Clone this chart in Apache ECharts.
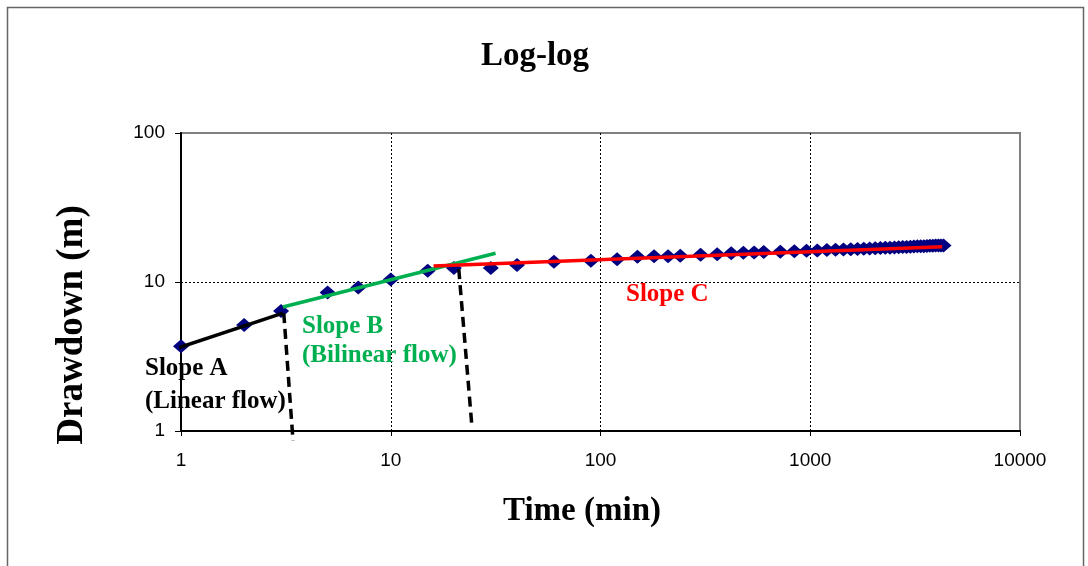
<!DOCTYPE html>
<html>
<head>
<meta charset="utf-8">
<script src="https://cdn.jsdelivr.net/npm/echarts@6/dist/echarts.min.js"></script>
<style>html,body{margin:0;padding:0;background:#fff}#c{width:1088px;height:566px}</style>
</head>
<body>
<div id="c"></div>
<script>
// Observed drawdown data
const timeMin = [1,2,3,5,7,10,15,20,30,40,60,90,120,150,180,210,240,300,360,420,480,540,600,720,840,960,1080,1200,1320,1440,1560,1680,1800,1920,2040,2160,2280,2400,2520,2640,2760,2880,3000,3120,3240,3360,3480,3600,3720,3840,3960,4080,4200,4320];
const drawdownM = [3.7,5.15,6.4,8.5,9.2,10.4,11.9,12.4,12.4,13.0,13.7,13.9,14.2,14.8,14.9,14.9,15.0,15.25,15.35,15.6,15.7,15.8,15.9,15.95,16.1,16.2,16.3,16.4,16.45,16.5,16.6,16.65,16.7,16.8,16.85,16.9,16.95,17.0,17.05,17.1,17.15,17.2,17.25,17.3,17.35,17.4,17.4,17.45,17.5,17.5,17.55,17.55,17.6,17.6];

// Fitted slope lines [time, drawdown]
const slopeA = [[0.887,3.46],[3.06,6.19]];
const slopeB = [[3.06,6.8],[31.6,15.6]];
const slopeC = [[16,12.8],[4255,17.26]];
// Flow-regime boundaries (dashed)
const boundary1 = [[3.09,6.19],[3.42,0.86]];
const boundary2 = [[21.1,12.2],[24.3,1.13]];

// Tick labels
const xTickLabels = {1:'1',10:'10',100:'100',1000:'1000',10000:'10000'};
const yTickLabels = {1:'1',10:'10',100:'100'};

const chart = echarts.init(document.getElementById('c'), null, {renderer:'canvas'});
const serif = '"Liberation Serif", "Times New Roman", serif';
const sans = '"Liberation Sans", Arial, sans-serif';

function lineSeries(data, color, dashed) {
  return {
    type: 'line', data: data, showSymbol: false, symbol: 'none', clip: false, z: 5,
    lineStyle: {color: color, width: 3.5, type: dashed ? [10,6] : 'solid', opacity: 1},
    silent: true, animation: false
  };
}

chart.setOption({
  animation: false,
  backgroundColor: '#fff',
  grid: {left: 181, right: 68, top: 133, bottom: 135, show: true, borderColor: '#808080', borderWidth: 2, backgroundColor: 'transparent'},
  xAxis: {
    type: 'log', logBase: 10, min: 1, max: 10000,
    axisLine: {show: true, lineStyle: {color: '#000', width: 2}},
    axisTick: {show: true, length: 5, lineStyle: {color: '#000'}},
    axisLabel: {fontFamily: sans, fontSize: 19, color: '#000', margin: 20,
      formatter: v => xTickLabels[Math.round(v)] || ''},
    splitLine: {show: true, showMinLine: false, showMaxLine: false, lineStyle: {color: '#000', width: 1, type: [2,2]}},
    minorTick: {show: false}
  },
  yAxis: {
    type: 'log', logBase: 10, min: 1, max: 100,
    axisLine: {show: true, lineStyle: {color: '#000', width: 2}},
    axisTick: {show: true, length: 6, lineStyle: {color: '#000'}},
    axisLabel: {fontFamily: sans, fontSize: 19, color: '#000', margin: 16,
      formatter: v => yTickLabels[Math.round(v)] || ''},
    splitLine: {show: true, showMinLine: false, showMaxLine: false, lineStyle: {color: '#000', width: 1, type: [2,2]}}
  },
  series: [
    {type: 'scatter', data: timeMin.map((t,i)=>[t, drawdownM[i]]), symbol: 'diamond', symbolSize: [16,14],
     itemStyle: {color: '#000080', opacity: 1}, z: 3},
    lineSeries(slopeA, '#000000', false),
    lineSeries(slopeB, '#00B050', false),
    lineSeries(slopeC, '#FF0000', false),
    lineSeries(boundary1, '#000000', true),
    lineSeries(boundary2, '#000000', true)
  ],
  graphic: [
    {type: 'rect', shape: {x: 7.5, y: 7.5, width: 1076, height: 620}, style: {fill: 'none', stroke: '#666', lineWidth: 1.5}, silent: true},
    {type: 'text', x: 535, y: 56, style: {text: 'Log-log', font: 'bold 33px ' + serif, fill: '#000', align: 'center', verticalAlign: 'middle'}},
    {type: 'text', x: 582, y: 511, style: {text: 'Time (min)', font: 'bold 33px ' + serif, fill: '#000', align: 'center', verticalAlign: 'middle'}},
    {type: 'text', x: 72, y: 325, rotation: Math.PI/2, style: {text: 'Drawdown (m)', font: 'bold 37px ' + serif, fill: '#000', align: 'center', verticalAlign: 'middle'}},
    {type: 'text', x: 145, y: 369, z: 10, style: {text: 'Slope A', font: 'bold 25px ' + serif, fill: '#000', align: 'left', verticalAlign: 'middle'}},
    {type: 'text', x: 145, y: 402, z: 10, style: {text: '(Linear flow)', font: 'bold 25px ' + serif, fill: '#000', align: 'left', verticalAlign: 'middle'}},
    {type: 'text', x: 302, y: 327, z: 10, style: {text: 'Slope B', font: 'bold 25px ' + serif, fill: '#00B050', align: 'left', verticalAlign: 'middle'}},
    {type: 'text', x: 302, y: 356, z: 10, style: {text: '(Bilinear flow)', font: 'bold 25px ' + serif, fill: '#00B050', align: 'left', verticalAlign: 'middle'}},
    {type: 'text', x: 626, y: 295, z: 10, style: {text: 'Slope C', font: 'bold 25px ' + serif, fill: '#FF0000', align: 'left', verticalAlign: 'middle'}}
  ]
});
</script>
</body>
</html>
